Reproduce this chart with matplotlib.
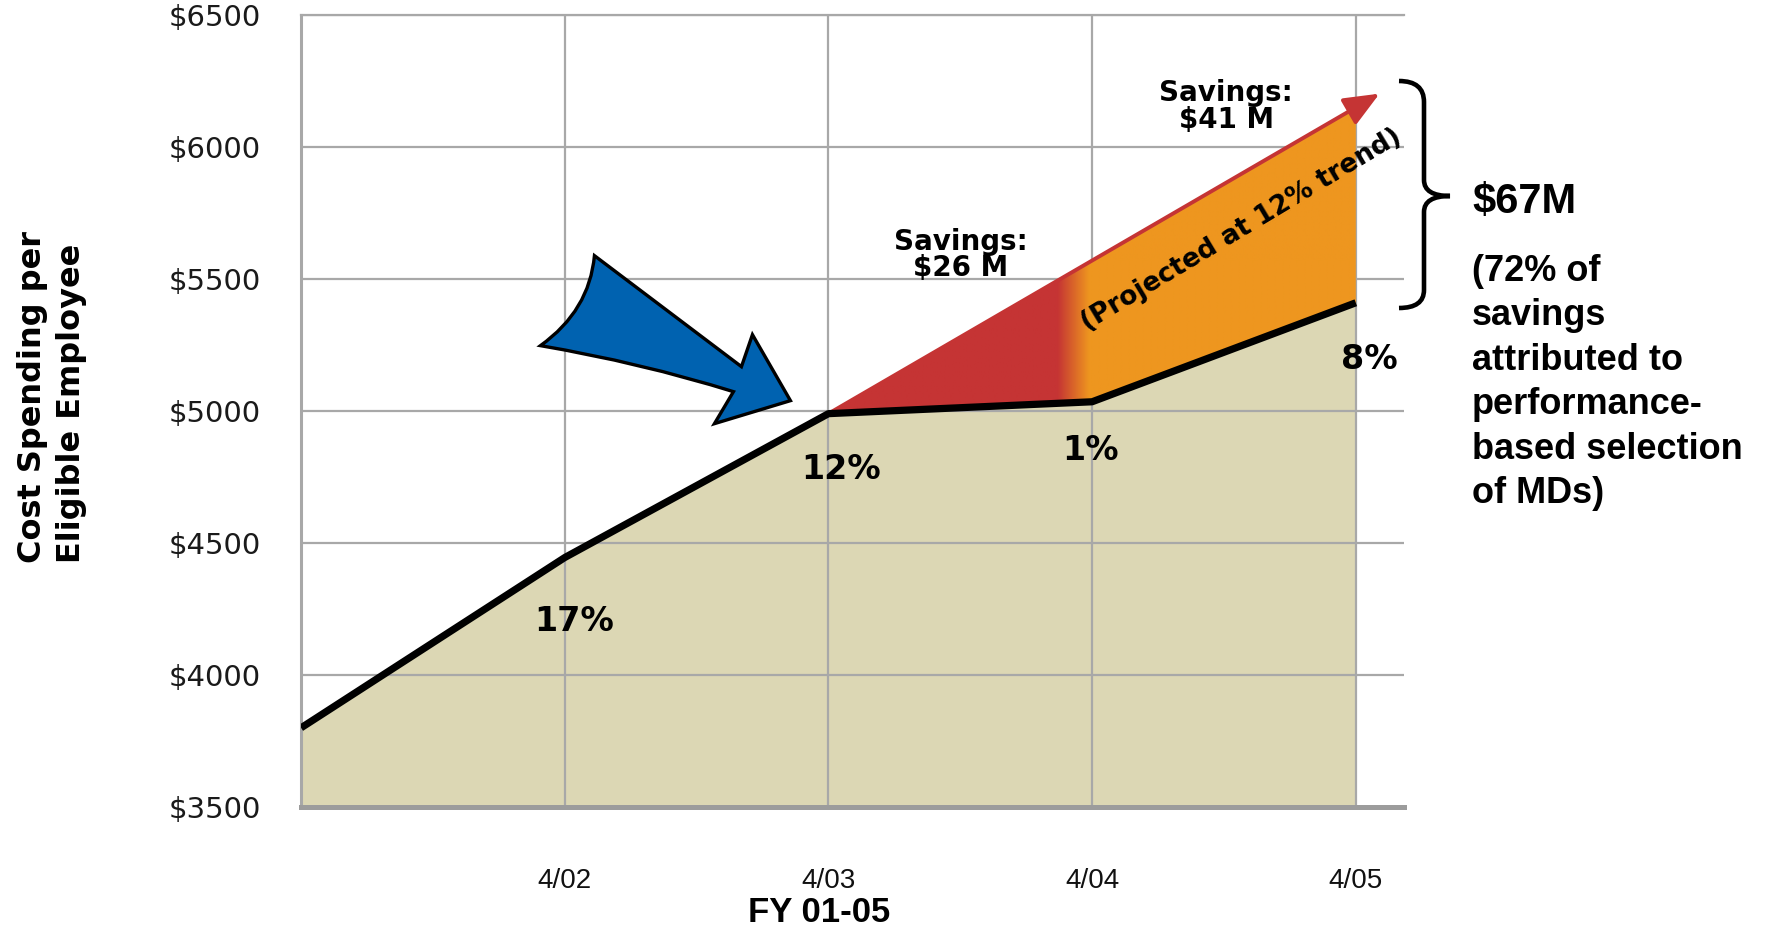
import numpy as np
import matplotlib
matplotlib.use("Agg")
import matplotlib.pyplot as plt
import matplotlib.transforms as mtransforms
from matplotlib.patches import PathPatch
from matplotlib.path import Path
from matplotlib.colors import to_rgb

# ---- data ----
periods = [0, 1, 2, 3, 4]
period_labels = ["4/02", "4/03", "4/04", "4/05"]
cost = [3800, 4445, 4990, 5035, 5410]
growth = ["17%", "12%", "1%", "8%"]
proj_x = [2, 3, 4]
projected = [4990, 5570, 6150]
savings = ["Savings:\n$26 M", "Savings:\n$41 M"]
total = "$67M"
note = "(72% of\nsavings\nattributed to\nperformance-\nbased selection\nof MDs)"
y_ticks = [3500, 4000, 4500, 5000, 5500, 6000, 6500]

BEIGE = "#DCD7B4"
RED = "#C53434"
ORANGE = "#EE961F"
BLUE = "#0062B0"
GRID = "#A8A8A8"
W, H = 1769, 932


def fpx(x, y):
    # pixel (from top-left) -> figure fraction
    return x / W, 1 - y / H


fig = plt.figure(figsize=(W / 100, H / 100), dpi=100)
ax = fig.add_axes([0.1702, 0.1341, 0.6235, 0.8498])
ax.set_xlim(0, 4.183)
ax.set_ylim(3500, 6500)

# area under the actual cost line
ax.fill_between(periods, 3500, cost, color=BEIGE, lw=0, zorder=1)

# grid + axes
ax.set_axisbelow("line")
ax.set_xticks(periods[1:], period_labels)
ax.set_yticks(y_ticks, ["$%d" % v for v in y_ticks])
ax.grid(True, color=GRID, lw=1.6)
ax.tick_params(axis="y", length=0, pad=29, labelsize=21, labelcolor="#1a1a1a")
ax.tick_params(axis="x", length=0, pad=44, labelsize=20, labelcolor="#111111")
for lbl in ax.get_xticklabels():
    lbl.set_fontfamily("Liberation Sans")
ax.spines["right"].set_visible(False)
ax.spines["top"].set_color(GRID)
ax.spines["top"].set_linewidth(1.6)
ax.spines["left"].set_color(GRID)
ax.spines["left"].set_linewidth(2.2)
ax.spines["bottom"].set_color("#9C9C9C")
ax.spines["bottom"].set_linewidth(3.6)

# savings wedge (red fading into orange)
wedge = ax.fill_between(proj_x, cost[2:], projected, color="none", lw=0, zorder=2)
gx = np.linspace(proj_x[0], proj_x[-1], 600)
t = np.clip((gx - 2.87) / 0.12, 0, 1)
rgb = (1 - t)[:, None] * np.array(to_rgb(RED)) + t[:, None] * np.array(to_rgb(ORANGE))
img = ax.imshow(rgb[None, :, :], extent=[proj_x[0], proj_x[-1], min(cost[2:]), max(projected)],
                aspect="auto", origin="lower", zorder=2, interpolation="bilinear")
img.set_clip_path(wedge.get_paths()[0], transform=ax.transData)

# projected trend arrow
step = projected[-1] - projected[-2]
x_end = 4.09
ax.annotate("", xy=(x_end, projected[-1] + step * (x_end - proj_x[-1])),
            xytext=(proj_x[0], projected[0]),
            arrowprops=dict(arrowstyle="-|>,head_length=0.9,head_width=0.38", color=RED,
                            lw=2.8, shrinkA=0, shrinkB=0, mutation_scale=24),
            zorder=4)

# actual cost line
ax.plot(periods, cost, color="black", lw=5.2, zorder=4, solid_capstyle="butt")

# growth labels
offsets = [(7, -46), (9, -40), (-1, -35), (10, -41)]
for i, (lab, off) in enumerate(zip(growth, offsets)):
    ax.annotate(lab, xy=(periods[i + 1], cost[i + 1]), xytext=off, textcoords="offset points",
                ha="center", va="center", fontsize=24, fontweight="bold", zorder=5)

ax.text(2.501, 5591, savings[0], ha="center", va="center", fontsize=20, fontweight="bold",
        linespacing=0.95, zorder=5)
ax.text(3.508, 6155, savings[1], ha="center", va="center", fontsize=20, fontweight="bold",
        linespacing=0.95, zorder=5)
ax.text(3.565, 5686, "(Projected at 12% trend)", rotation=31, rotation_mode="anchor",
        ha="center", va="center", fontsize=19, fontweight="bold", zorder=5)

# blue block arrow pointing at the 4/03 point (pixel offsets from that point)
arrow_verts = [(-234, 158), (-87, 47), (-76, 79), (-38, 13), (-114, -10), (-95, 22),
               (-188, 51), (-288, 68), (-239, 103), (-234, 158), (-234, 158)]
arrow_codes = [Path.MOVETO, Path.LINETO, Path.LINETO, Path.LINETO, Path.LINETO, Path.LINETO,
               Path.CURVE3, Path.CURVE3, Path.CURVE3, Path.CURVE3, Path.CLOSEPOLY]
anchor = mtransforms.ScaledTranslation(periods[2], cost[2], ax.transData)
blue = PathPatch(Path(arrow_verts, arrow_codes), facecolor=BLUE, edgecolor="black", lw=2.4,
                 joinstyle="miter", transform=mtransforms.Affine2D() + anchor, zorder=5)
ax.add_patch(blue)

# brace on the right
bx = [fpx(1399, 81), fpx(1424, 81), fpx(1424, 102), fpx(1424, 180), fpx(1424, 196),
      fpx(1450, 196), fpx(1424, 196), fpx(1424, 212), fpx(1424, 290), fpx(1424, 308),
      fpx(1399, 308)]
codes = [Path.MOVETO, Path.CURVE3, Path.CURVE3, Path.LINETO, Path.CURVE3, Path.CURVE3,
         Path.CURVE3, Path.CURVE3, Path.LINETO, Path.CURVE3, Path.CURVE3]
fig.add_artist(PathPatch(Path(bx, codes), fill=False, lw=3.3, color="black",
                         transform=fig.transFigure))

fig.text(*fpx(1472, 213), total, ha="left", va="baseline", fontsize=30, fontweight="bold",
         family="Liberation Sans")
fig.text(*fpx(1472, 254), note, ha="left", va="top", fontsize=26, fontweight="bold",
         family="Liberation Sans", linespacing=1.35)

# axis titles
fig.text(*fpx(52, 397), "Cost Spending per\nEligible Employee", rotation=90, ha="center",
         va="center", fontsize=23, fontweight="bold", multialignment="left", linespacing=1.3)
fig.text(*fpx(819, 912), "FY 01-05", ha="center", va="center", fontsize=25,
         fontweight="bold", family="Liberation Sans")

fig.savefig("out.png", dpi=100)
